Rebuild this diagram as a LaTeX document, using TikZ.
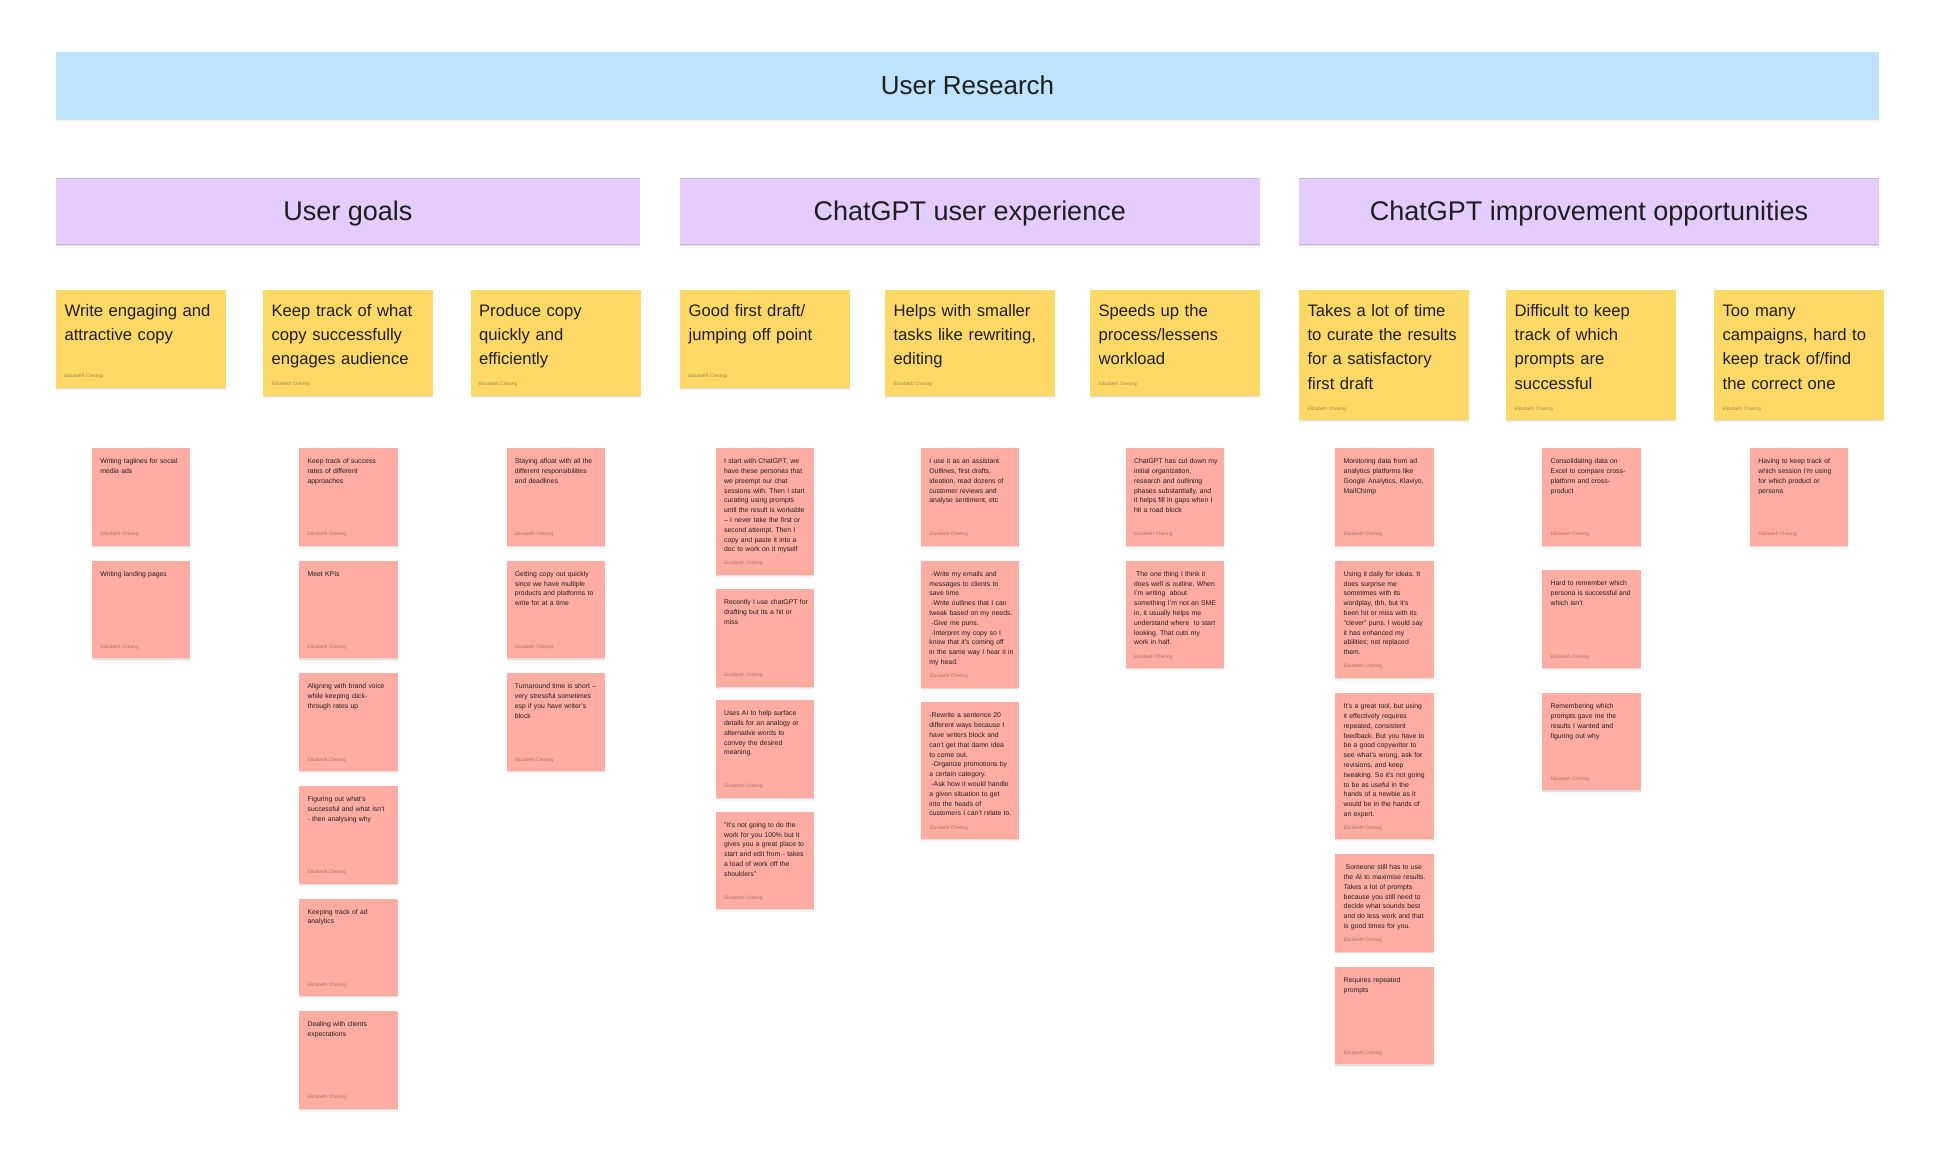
\documentclass[tikz,border=0pt]{standalone}
\usepackage{fontspec}
\setmainfont{Liberation Sans}
\frenchspacing
\usetikzlibrary{shadows}
\definecolor{bannerblue}{HTML}{BDE3FF}
\definecolor{titleviolet}{HTML}{E4CCFF}
\definecolor{titleedge}{HTML}{C8B4D8}
\definecolor{cardyellow}{HTML}{FFD966}
\definecolor{cardpink}{HTML}{FFADA3}
\definecolor{inkdark}{HTML}{1E1E1E}
\definecolor{bypink}{HTML}{A8746E}
\definecolor{byyellow}{HTML}{9A8950}
\tikzset{
  softshadow/.style={drop shadow={shadow xshift=0pt,shadow yshift=-3pt,fill=black,opacity=0.04},drop shadow={shadow xshift=0pt,shadow yshift=-1.2pt,fill=black,opacity=0.09}},
  banner/.style={anchor=north west,fill=bannerblue,softshadow,inner sep=0pt,outer sep=0pt,minimum height=66.5pt,text=inkdark,font=\fontsize{26}{30}\selectfont},
  titlecard/.style={anchor=north west,fill=titleviolet,softshadow,inner sep=0pt,outer sep=0pt,minimum height=66pt,text=inkdark,text height=20pt,text depth=3pt,font=\fontsize{27}{30}\selectfont,
    path picture={\draw[titleedge,line width=1pt] (path picture bounding box.north west)--(path picture bounding box.north east) (path picture bounding box.south west)--(path picture bounding box.south east);}},
  byline/.style={anchor=west,inner sep=0pt,xshift=8.3pt,yshift=11pt,font=\fontsize{4.85}{5}\selectfont},
  yellowcard/.style={anchor=north west,fill=cardyellow,softshadow,outer sep=0pt,inner xsep=3pt,inner ysep=0pt,text width=164pt,align=left,text=inkdark,
    text height=26pt,text depth=#1pt-26pt,font=\fontsize{16.65}{24.4}\selectfont,execute at begin node={\leftskip=5.6pt},
    label={[byline,text=byyellow]south west:Elizabeth Cheong}},
  pinkcard/.style={anchor=north west,fill=cardpink,softshadow,outer sep=0pt,inner xsep=3pt,inner ysep=0pt,text width=92.4pt,align=left,text=inkdark,
    text height=15.6pt,text depth=#1pt-15.6pt,font=\fontsize{6.85}{9.8}\selectfont,execute at begin node={\leftskip=5.4pt},
    label={[byline,text=bypink]south west:Elizabeth Cheong}},
}
\begin{document}
\begin{tikzpicture}[x=1pt,y=-1pt]
      \useasboundingbox (0,0) rectangle (1940,1168);
      % Titles
      \node[banner,minimum width=1823pt] (B1) at (56,52) {User Research};
      \node[titlecard,minimum width=584pt] (T1) at (56,178.5) {User goals};
      \node[titlecard,minimum width=579.5pt] (T2) at (680,178.5) {ChatGPT user experience};
      \node[titlecard,minimum width=580pt] (T3) at (1299,178.5) {ChatGPT improvement opportunities};
      % Cards Y
      \node[yellowcard=97.5] (Y1) at (56,290) {Write engaging and\\attractive copy};
      \node[yellowcard=105.5] (Y2) at (263,290) {Keep track of what\\copy successfully\\engages audience};
      \node[yellowcard=105.5] (Y3) at (470.5,290) {Produce copy\\quickly and\\efficiently};
      \node[yellowcard=97.5] (Y4) at (680,290) {Good first draft/\\jumping off point};
      \node[yellowcard=105.5] (Y5) at (885,290) {Helps with smaller\\tasks like rewriting,\\editing};
      \node[yellowcard=105.5] (Y6) at (1090,290) {Speeds up the\\process/lessens\\workload};
      \node[yellowcard=130] (Y7) at (1299,290) {Takes a lot of time\\to curate the results\\for a satisfactory\\first draft};
      \node[yellowcard=130] (Y8) at (1506,290) {Difficult to keep\\track of which\\prompts are\\successful};
      \node[yellowcard=130] (Y9) at (1714,290) {Too many\\campaigns, hard to\\keep track of/find\\the correct one};
      % Cards P1
      \node[pinkcard=97.7] (P11) at (92,448) {Writing taglines for social\\media ads};
      \node[pinkcard=97.7] (P12) at (92,560.7) {Writing landing pages};
      % Cards P2
      \node[pinkcard=97.7] (P21) at (299.2,448) {Keep track of success\\rates of different\\approaches};
      \node[pinkcard=97.7] (P22) at (299.2,560.7) {Meet KPIs};
      \node[pinkcard=97.7] (P23) at (299.2,673.3) {Aligning with brand voice\\while keeping click-\\through rates up};
      \node[pinkcard=97.7] (P24) at (299.2,786) {Figuring out what's\\successful and what isn't\\- then analysing why};
      \node[pinkcard=97.7] (P25) at (299.2,898.5) {Keeping track of ad\\analytics};
      \node[pinkcard=97.7] (P26) at (299.2,1011) {Dealing with clients\\expectations};
      % Cards P3
      \node[pinkcard=97.7] (P31) at (506.5,448) {Staying afloat with all the\\different responsibilities\\and deadlines};
      \node[pinkcard=97.7] (P32) at (506.5,560.7) {Getting copy out quickly\\since we have multiple\\products and platforms to\\write for at a time};
      \node[pinkcard=97.7] (P33) at (506.5,673.3) {Turnaround time is short –\\very stressful sometimes\\esp if you have writer's\\block};
      % Cards P4
      \node[pinkcard=126.7] (P41) at (715.7,448) {I start with ChatGPT, we\\have these personas that\\we preempt our chat\\sessions with. Then I start\\curating using prompts\\until the result is workable\\– I never take the first or\\second attempt. Then I\\copy and paste it into a\\doc to work on it myself};
      \node[pinkcard=97.5] (P42) at (715.7,589) {Recently I use chatGPT for\\drafting but its a hit or\\miss};
      \node[pinkcard=97.5] (P43) at (715.7,700) {Uses AI to help surface\\details for an analogy or\\alternative words to\\convey the desired\\meaning.};
      \node[pinkcard=97.5] (P44) at (715.7,811.7) {"It's not going to do the\\work for you 100\% but it\\gives you a great place to\\start and edit from - takes\\a load of work off the\\shoulders"};
      % Cards P5
      \node[pinkcard=97.5] (P51) at (921,448) {I use it as an assistant.\\Outlines, first drafts,\\ideation, read dozens of\\customer reviews and\\analyse sentiment, etc};
      \node[pinkcard=127] (P52) at (921,560.7) {\hspace*{2pt}-Write my emails and\\messages to clients to\\save time.\\\hspace*{2pt}-Write outlines that I can\\tweak based on my needs.\\\hspace*{2pt}-Give me puns.\\\hspace*{2pt}-Interpret my copy so I\\know that it's coming off\\in the same way I hear it in\\my head.};
      \node[pinkcard=136.7] (P53) at (921,702.3) {-Rewrite a sentence 20\\different ways because I\\have writers block and\\can't get that damn idea\\to come out.\\\hspace*{2pt}-Organize promotions by\\a certain category.\\\hspace*{2pt}-Ask how it would handle\\a given situation to get\\into the heads of\\customers I can't relate to.};
      % Cards P6
      \node[pinkcard=97.5] (P61) at (1125.7,448) {ChatGPT has cut down my\\initial organization,\\research and outlining\\phases substantially, and\\it helps fill in gaps when I\\hit a road block};
      \node[pinkcard=107.3] (P62) at (1125.7,560.7) {\hspace*{2pt}The one thing I think it\\does well is outline. When\\I'm writing\ \ about\\something I'm not an SME\\in, it usually helps me\\understand where\ \ to start\\looking. That cuts my\\work in half.};
      % Cards P7
      \node[pinkcard=97.5] (P71) at (1335.3,448) {Monitoring data from ad\\analytics platforms like\\Google Analytics, Klaviyo,\\MailChimp};
      \node[pinkcard=117] (P72) at (1335.3,560.7) {Using it daily for ideas. It\\does surprise me\\sometimes with its\\wordplay, tbh, but it's\\been hit or miss with its\\"clever" puns. I would say\\it has enhanced my\\abilities; not replaced\\them.};
      \node[pinkcard=146] (P73) at (1335.3,693) {It's a great tool, but using\\it effectively requires\\repeated, consistent\\feedback. But you have to\\be a good copywriter to\\see what's wrong, ask for\\revisions, and keep\\tweaking. So it's not going\\to be as useful in the\\hands of a newbie as it\\would be in the hands of\\an expert.};
      \node[pinkcard=97.7] (P74) at (1335.3,854) {\hspace*{2pt}Someone still has to use\\the AI to maximise results.\\Takes a lot of prompts\\because you still need to\\decide what sounds best\\and do less work and that\\is good times for you.};
      \node[pinkcard=97.3] (P75) at (1335.3,967) {Requires repeated\\prompts};
      % Cards P8
      \node[pinkcard=97.5] (P81) at (1542.3,448) {Consolidating data on\\Excel to compare cross-\\platform and cross-\\product};
      \node[pinkcard=98] (P82) at (1542.3,570) {Hard to remember which\\persona is successful and\\which isn't};
      \node[pinkcard=97.3] (P83) at (1542.3,693) {Remembering which\\prompts gave me the\\results I wanted and\\figuring out why};
      % Cards P9
      \node[pinkcard=97.5] (P91) at (1750,448) {Having to keep track of\\which session I'm using\\for which product or\\persona};
\end{tikzpicture}
\end{document}
